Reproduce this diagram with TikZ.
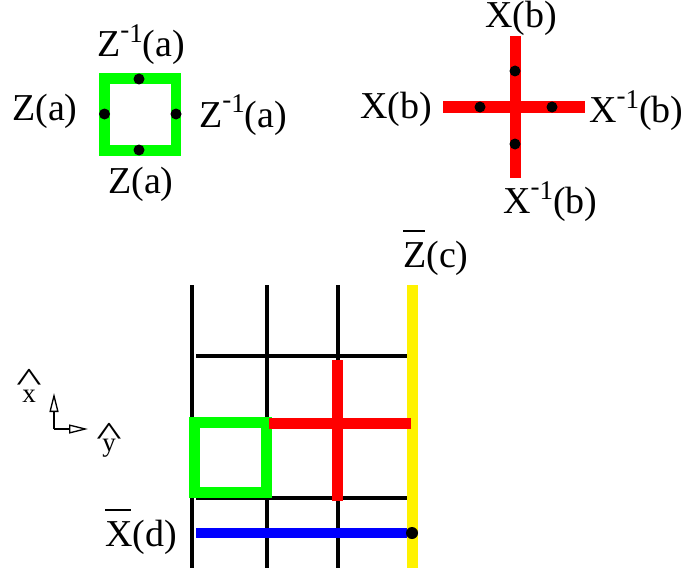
\documentclass[tikz,border=0pt]{standalone}
\usepackage{fontspec}
\usepackage{graphicx}
\setmainfont{Liberation Serif}
\usetikzlibrary{arrows.meta}
\newcommand{\minusone}{\raisebox{14pt}{\fontsize{27}{27}\selectfont\raisebox{4pt}{-}1}}
\newcommand{\barred}[2]{\rlap{\rule[35pt]{#2}{1.6pt}}#1}
\newcommand{\hatted}[2]{\makebox[0pt][l]{\makebox[13.5pt][c]{\raisebox{#2}{\scalebox{2}[1.25]{\textasciicircum}}}}#1}
\tikzset{
  lbl/.style={inner sep=0pt, anchor=base west, font=\fontsize{38}{40}\selectfont},
  hatlbl/.style={inner sep=0pt, anchor=base, font=\fontsize{27}{28}\selectfont},
  gridline/.style={line width=4pt, black},
  greenbox/.style={line width=10.5pt, green, line join=miter},
  redbar/.style={line width=11pt, red},
  yellowbar/.style={line width=11pt, yellow},
  bluebar/.style={line width=10pt, blue},
  dotmark/.style={fill=black},
  axisarrow/.style={line width=1.3pt, -{Triangle[open,length=19pt,width=9pt]}}
}
\begin{document}
\begin{tikzpicture}[x=1pt,y=-1pt]
\useasboundingbox (0,0) rectangle (684,575);

% ---- top-left green plaquette ----
\draw[greenbox] (104.5,78.5) rectangle (176,150.5);
\foreach \p in {(139,79),(104.5,114),(176,114),(139,150)}
  \fill[dotmark] \p circle (5.5);
\node[lbl] (zinvtop) at (97,57) {Z\minusone(a)};
\node[lbl] (zleft) at (12,120) {Z(a)};
\node[lbl] (zinvright) at (199,127) {Z\minusone(a)};
\node[lbl] (zbottom) at (108,193) {Z(a)};

% ---- top-right red cross ----
\draw[redbar] (515,36) -- (515,178);
\draw[redbar] (443,107) -- (585,107);
\foreach \p in {(515,71),(480,107),(552,107),(515,144)}
  \fill[dotmark] \p circle (5.5);
\node[lbl] (xbtop) at (485,28) {X(b)};
\node[lbl] (xbleft) at (360,118) {X(b)};
\node[lbl] (xinvright) at (589,122) {X\minusone(b)};
\node[lbl] (xinvbottom) at (503,213) {X\minusone(b)};

% ---- lattice ----
\foreach \x in {192,267,338}
  \draw[gridline] (\x,285) -- (\x,568);
\draw[gridline] (196,356) -- (407,356);
\draw[gridline] (196,498) -- (407,498);

\draw[yellowbar] (412,285) -- (412,568);
\draw[greenbox] (194.5,422.5) rectangle (266.5,492.5);
\draw[redbar] (269,423) -- (411,423);
\draw[redbar] (337,360) -- (337,501);
\draw[bluebar] (196,533) -- (407,533);
\fill[dotmark] (412,533) circle (6);

\node[lbl] (zbar) at (403,267) {\barred{Z}{22pt}(c)};
\node[lbl] (xbar) at (105,546) {\barred{X}{26pt}(d)};

% ---- axes ----
\coordinate (O) at (54,429);
\coordinate (ax) at (54,393);
\coordinate (ay) at (88,429);
\draw[axisarrow] (O) -- (ax);
\draw[axisarrow] (O) -- (ay);
\node[hatlbl] (xhat) at (29,402) {\hatted{x}{11pt}};
\node[hatlbl] (yhat) at (109,451) {\hatted{y}{6pt}};
\end{tikzpicture}
\end{document}
